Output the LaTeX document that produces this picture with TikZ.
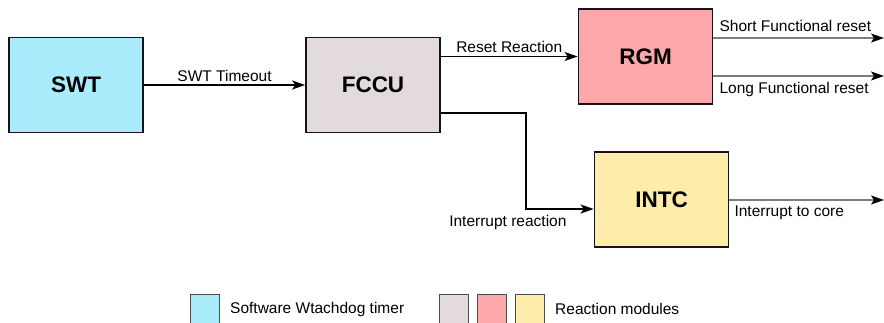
\documentclass[tikz,border=0pt]{standalone}
\usepackage{fontspec}
\setmainfont{Liberation Sans}
\usetikzlibrary{arrows.meta}
\definecolor{swtfill}{RGB}{170,235,252}
\definecolor{fccufill}{RGB}{226,218,221}
\definecolor{rgmfill}{RGB}{252,168,171}
\definecolor{intcfill}{RGB}{254,237,170}
\definecolor{outline}{RGB}{20,20,20}
\definecolor{outwire}{RGB}{125,125,125}
\begin{document}
\begin{tikzpicture}[x=1pt,y=-1pt,
  block/.style={draw=outline,line width=1.7pt,minimum width=134pt,minimum height=95pt,
    inner sep=0pt,font=\fontsize{22.5}{26}\selectfont\bfseries},
  wire/.style={draw=black,line width=1.6pt,-{Stealth[length=13pt,width=9pt,inset=3pt]}},
  outwirestyle/.style={draw=outwire,line width=1.7pt,-{Stealth[length=13pt,width=9pt,inset=3pt,color=black]}},
  lbl/.style={font=\fontsize{15.5}{18}\selectfont,inner sep=1pt},
  key/.style={draw=black!70,line width=1pt,minimum width=29pt,minimum height=36pt,inner sep=0pt,anchor=north west}]
\useasboundingbox (0,0) rectangle (884,322);

% main blocks
\node[block,fill=swtfill]  (swt)  at (76,85)    {SWT};
\node[block,fill=fccufill] (fccu) at (373,85)   {FCCU};
\node[block,fill=rgmfill]  (rgm)  at (645.5,56.5) {RGM};
\node[block,fill=intcfill] (intc) at (661.5,199.5) {INTC};

% SWT -> FCCU
\draw[wire] (swt.east) -- node[lbl,above=2pt] {SWT Timeout} (fccu.west);

% FCCU -> RGM
\draw[wire] (fccu.east |- rgm.west) -- node[lbl,above=2pt] {Reset Reaction} (rgm.west);

% FCCU -> INTC
\coordinate (irqout) at ([yshift=-28pt]fccu.east);
\coordinate (irqin)  at ([yshift=-9.5pt]intc.west);
\coordinate (irqbend) at (526,113);
\draw[wire] (irqout) -- (irqbend) |- (irqin);
\node[lbl,anchor=north east] (irqlbl) at ([xshift=-26pt,yshift=-5pt]irqin) {Interrupt reaction};

% RGM outputs
\coordinate (sfr) at (884,38);
\coordinate (lfr) at (884,76);
\draw[outwirestyle] (rgm.east |- sfr) -- (sfr);
\draw[outwirestyle] (rgm.east |- lfr) -- (lfr);
\node[lbl,anchor=south west] (sfrlbl) at ([xshift=5pt,yshift=5pt]rgm.east |- sfr) {Short Functional reset};
\node[lbl,anchor=north west] (lfrlbl) at ([xshift=5pt,yshift=-5pt]rgm.east |- lfr) {Long Functional reset};

% INTC output
\coordinate (itc) at (884,200);
\draw[outwirestyle] (intc.east |- itc) -- (itc);
\node[lbl,anchor=north west] (itclbl) at ([xshift=4pt,yshift=-5pt]intc.east |- itc) {Interrupt to core};

% legend
\node[key,fill=swtfill]  (k1) at (190,294) {};
\node[lbl,anchor=west]   (k1t) at (229,309) {Software Wtachdog timer};
\node[key,fill=fccufill] (k2) at (439,294) {};
\node[key,fill=rgmfill]  (k3) at (477,294) {};
\node[key,fill=intcfill] (k4) at (515,294) {};
\node[lbl,anchor=west]   (k2t) at (554,309) {Reaction modules};
\end{tikzpicture}
\end{document}
